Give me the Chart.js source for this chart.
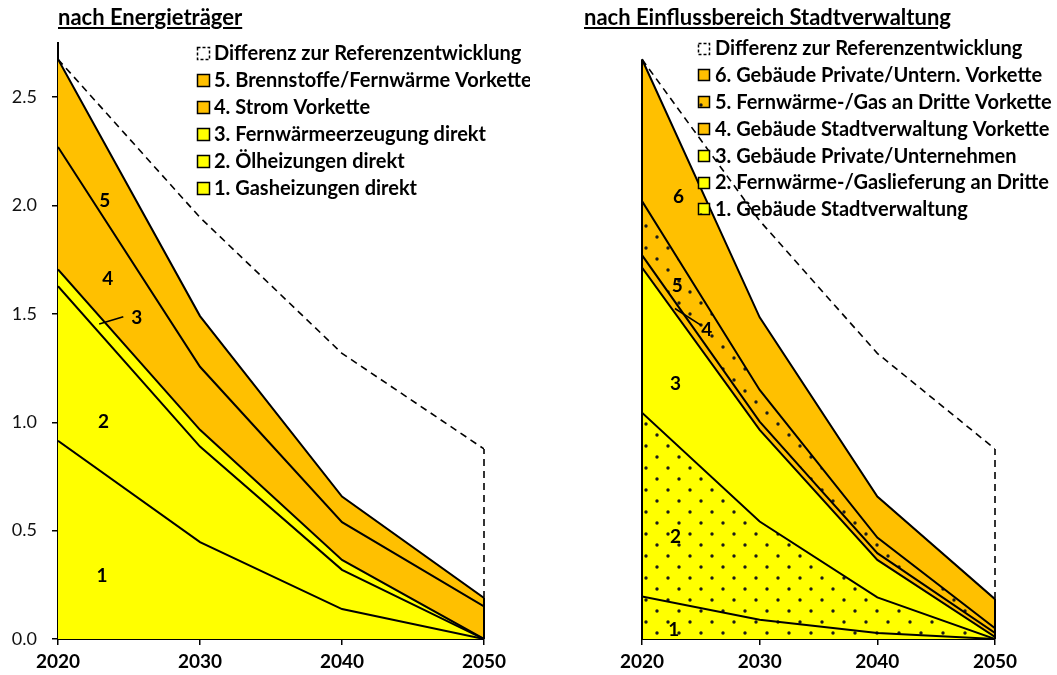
<!DOCTYPE html>
<html>
<head>
<meta charset="utf-8">
<script src="https://cdn.jsdelivr.net/npm/chart.js@4.4.0/dist/chart.umd.min.js"></script>
<style>
body{margin:0;background:#fff;}
#wrap{position:relative;width:1057px;height:675px;overflow:hidden;}
canvas{position:absolute;top:0;}
.title{position:absolute;top:3px;font:bold 22px Lato,sans-serif;text-decoration:underline;color:#000;white-space:nowrap;}
</style>
</head>
<body>
<div id="wrap">
  <canvas id="left" width="530" height="675" style="left:0"></canvas>
  <canvas id="right" width="527" height="675" style="left:530px"></canvas>
  <div class="title" style="left:58px">nach Energieträger</div>
  <div class="title" style="left:584px">nach Einflussbereich Stadtverwaltung</div>
</div>
<script>
var years = [2020, 2030, 2040, 2050];

// nach Energieträger (gestapelt)
var gasDirekt = [0.915, 0.447, 0.138, 0];
var oelDirekt = [0.713, 0.441, 0.181, 0];
var fwDirekt  = [0.077, 0.077, 0.046, 0];
var stromVk   = [0.565, 0.291, 0.174, 0.150];
var brennVk   = [0.405, 0.234, 0.118, 0.039];
var diffLinks = [0, 0.455, 0.661, 0.688];
var namesLinks = ['1. Gasheizungen direkt', '2. Ölheizungen direkt', '3. Fernwärmeerzeugung direkt',
                  '4. Strom Vorkette', '5. Brennstoffe/Fernwärme Vorkette'];

// nach Einflussbereich Stadtverwaltung
var gebStadt      = [0.196, 0.089, 0.028, 0];
var fwGasDritte   = [0.848, 0.453, 0.164, 0];
var gebPrivat     = [0.670, 0.423, 0.173, 0.010];
var gebStadtVk    = [0.057, 0.038, 0.031, 0.018];
var fwGasDritteVk = [0.250, 0.146, 0.072, 0.022];
var gebPrivatVk   = [0.654, 0.335, 0.189, 0.134];
var diffRechts    = [0, 0.446, 0.661, 0.693];
var namesRechts = ['1. Gebäude Stadtverwaltung', '2. Fernwärme-/Gaslieferung an Dritte', '3. Gebäude Private/Unternehmen',
                   '4. Gebäude Stadtverwaltung Vorkette', '5. Fernwärme-/Gas an Dritte Vorkette', '6. Gebäude Private/Untern. Vorkette'];
var diffName = 'Differenz zur Referenzentwicklung';

var GELB = '#FFFF00', ORANGE = '#FFC000';

function dots(bg) {
  var c = document.createElement('canvas');
  c.width = 22; c.height = 22;
  var g = c.getContext('2d');
  g.fillStyle = bg; g.fillRect(0, 0, 22, 22);
  g.fillStyle = '#1a1a1a';
  g.beginPath(); g.arc(6, 6, 1.7, 0, Math.PI * 2); g.fill();
  g.beginPath(); g.arc(17, 17, 1.7, 0, Math.PI * 2); g.fill();
  return g.createPattern(c, 'repeat');
}

function points(vals) {
  return years.map(function (y, k) { return {x: y, y: vals[k]}; });
}

function buildDatasets(series, names, fills, diff) {
  var ds = series.map(function (vals, i) {
    return {
      label: names[i], data: points(vals), backgroundColor: fills[i],
      borderColor: '#000', borderWidth: 2, fill: i === 0 ? 'origin' : '-1',
      pointRadius: 0, tension: 0
    };
  });
  ds.push({
    label: diffName, data: points(diff), isDiff: true, backgroundColor: 'transparent',
    borderColor: '#000', borderWidth: 1.6, borderDash: [7, 5], fill: false, pointRadius: 0, tension: 0
  });
  return ds;
}

// Ränder bei 2020/2050, Legende und Bereichsnummern
var extras = {
  id: 'extras',
  afterDatasetsDraw: function (chart, args, opts) {
    var ctx = chart.ctx, xs = chart.scales.x, ys = chart.scales.y;
    var ds = chart.data.datasets;
    var last = years.length - 1;
    var top0 = 0, topN = 0;
    ds.forEach(function (d) { if (!d.isDiff) { top0 += d.data[0].y; topN += d.data[last].y; } });
    var diffN = ds[ds.length - 1].data[last].y;
    ctx.save();
    ctx.strokeStyle = '#000';
    ctx.lineWidth = 2;
    ctx.beginPath();
    ctx.moveTo(xs.getPixelForValue(years[last]), ys.getPixelForValue(0));
    ctx.lineTo(xs.getPixelForValue(years[last]), ys.getPixelForValue(topN));
    if (opts.leftEdge) {
      ctx.moveTo(xs.getPixelForValue(years[0]), ys.getPixelForValue(0));
      ctx.lineTo(xs.getPixelForValue(years[0]), ys.getPixelForValue(top0));
    }
    ctx.stroke();
    ctx.lineWidth = 1.6;
    ctx.setLineDash([7, 5]);
    ctx.beginPath();
    ctx.moveTo(xs.getPixelForValue(years[last]), ys.getPixelForValue(topN));
    ctx.lineTo(xs.getPixelForValue(years[last]), ys.getPixelForValue(topN + diffN));
    ctx.stroke();
    ctx.setLineDash([]);

    // Nummern
    ctx.fillStyle = '#000';
    ctx.font = 'bold 19px Lato, sans-serif';
    ctx.textAlign = 'center';
    ctx.textBaseline = 'middle';
    opts.marks.forEach(function (m) {
      ctx.fillText(m[0], xs.getPixelForValue(m[1]), ys.getPixelForValue(m[2]));
    });
    ctx.lineWidth = 1.6;
    opts.leaders.forEach(function (l) {
      ctx.beginPath();
      ctx.moveTo(xs.getPixelForValue(l[0]), ys.getPixelForValue(l[1]));
      ctx.lineTo(xs.getPixelForValue(l[2]), ys.getPixelForValue(l[3]));
      ctx.stroke();
    });

    // Legende
    var lg = opts.legend;
    var items = ds.slice().reverse();
    ctx.font = 'bold 20px Lato, sans-serif';
    ctx.textAlign = 'left';
    items.forEach(function (d, i) {
      var cy = lg.y + i * lg.step;
      var bx = lg.x + 0.5, by = Math.round(cy - lg.box / 2) + 0.5;
      if (d.isDiff) {
        ctx.setLineDash([3, 2]);
        ctx.lineWidth = 1.5;
        ctx.strokeRect(bx, by, lg.box, lg.box);
        ctx.setLineDash([]);
      } else {
        ctx.fillStyle = d.backgroundColor;
        ctx.fillRect(bx, by, lg.box, lg.box);
        ctx.lineWidth = 1.5;
        ctx.strokeRect(bx, by, lg.box, lg.box);
      }
      ctx.fillStyle = '#000';
      ctx.fillText(d.label, lg.x + lg.textGap, cy + 1);
    });
    ctx.restore();
  }
};

function makeOptions(showY, pad, extraOpts) {
  return {
    responsive: false,
    animation: false,
    layout: {padding: pad},
    plugins: {legend: {display: false}, tooltip: {enabled: false}, extras: extraOpts},
    scales: {
      x: {
        type: 'linear', min: 2020, max: 2050,
        afterFit: function (s) { s.height = 36; },
        ticks: {stepSize: 10, padding: 5, color: '#000', font: {family: 'Lato', size: 19, weight: 'bold'},
                callback: function (v) { return String(v); }},
        grid: {drawOnChartArea: false, drawTicks: true, tickLength: 6, color: '#000', lineWidth: 1.5},
        border: {display: true, color: '#000', width: 2}
      },
      y: {
        display: showY, stacked: true, min: 0, max: 2.75,
        afterFit: function (s) { s.width = 58; },
        afterBuildTicks: function (s) {
          s.ticks = s.ticks.filter(function (t) { return Math.abs(t.value * 2 - Math.round(t.value * 2)) < 1e-9; });
        },
        ticks: {stepSize: 0.5, padding: 15, color: '#111', font: {family: 'Lato', size: 18},
                callback: function (v) { return v.toFixed(1); }},
        grid: {drawOnChartArea: false, drawTicks: true, tickLength: 6, color: '#000', lineWidth: 1.5},
        border: {display: true, color: '#000', width: 2}
      }
    }
  };
}

new Chart(document.getElementById('left'), {
  type: 'line',
  data: {datasets: buildDatasets([gasDirekt, oelDirekt, fwDirekt, stromVk, brennVk], namesLinks,
                                 [GELB, GELB, GELB, ORANGE, ORANGE], diffLinks)},
  options: makeOptions(true, {left: 0, right: 46, top: 43, bottom: 0}, {
    leftEdge: false,
    marks: [['5', 2023.3, 2.02], ['4', 2023.5, 1.66], ['3', 2025.55, 1.48], ['2', 2023.2, 1.0], ['1', 2023.1, 0.29]],
    leaders: [[2022.9, 1.453, 2024.6, 1.487]],
    legend: {x: 197, y: 53, step: 27, box: 12, textGap: 17}
  }),
  plugins: [extras]
});

new Chart(document.getElementById('right'), {
  type: 'line',
  data: {datasets: buildDatasets([gebStadt, fwGasDritte, gebPrivat, gebStadtVk, fwGasDritteVk, gebPrivatVk], namesRechts,
                                 [dots(GELB), dots(GELB), GELB, ORANGE, dots(ORANGE), ORANGE], diffRechts)},
  options: makeOptions(false, {left: 54, right: 62, top: 43, bottom: 0}, {
    leftEdge: true,
    marks: [['6', 2023.1, 2.04], ['5', 2023.0, 1.63], ['4', 2025.5, 1.425], ['3', 2022.85, 1.175], ['2', 2022.85, 0.47], ['1', 2022.7, 0.04]],
    leaders: [[2022.8, 1.525, 2025.0, 1.448]],
    legend: {x: 168, y: 48, step: 26.8, box: 11, textGap: 17}
  }),
  plugins: [extras]
});
</script>
</body>
</html>
